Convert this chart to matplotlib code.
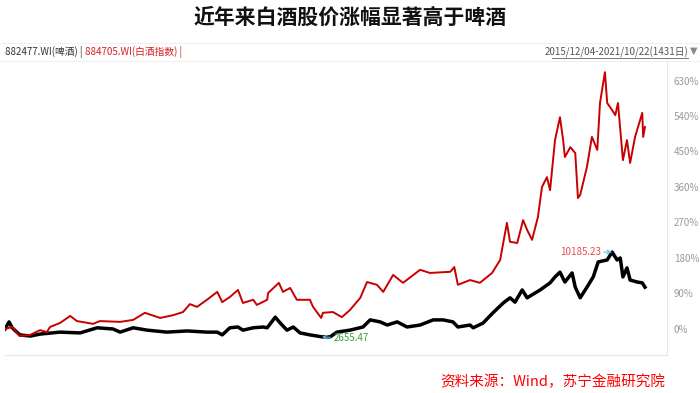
import matplotlib
matplotlib.use("Agg")
import matplotlib.pyplot as plt
from matplotlib.lines import Line2D

plt.rcParams['font.family'] = ['Noto Sans CJK SC', 'DejaVu Sans']

# trading-day index (0..1430) and cumulative change in %
baijiu_day = [0, 16, 33, 56, 78, 93, 100, 122, 145, 160, 196, 211, 256, 285, 311, 345, 374, 396,
              411, 427, 449, 472, 483, 500, 518, 529, 552, 560, 583, 585, 609, 618, 634, 649, 678,
              685, 703, 707, 729, 749, 767, 790, 805, 827, 841, 863, 885, 923, 945, 990, 999, 1007,
              1034, 1056, 1083, 1101, 1116, 1123, 1139, 1152, 1161, 1172, 1185, 1194, 1205, 1212,
              1223, 1234, 1241, 1245, 1257, 1268, 1274, 1279, 1294, 1305, 1317, 1323, 1334, 1339,
              1350, 1357, 1363, 1374, 1383, 1390, 1401, 1417, 1419, 1423]
baijiu_pct = [0, 5, -18, -15, -3, -8, 5, 15, 33, 20, 13, 20, 18, 23, 41, 28, 35, 43,
              63, 56, 74, 94, 68, 81, 99, 66, 74, 61, 74, 91, 117, 94, 104, 74, 74,
              56, 28, 41, 43, 30, 48, 79, 119, 112, 94, 137, 117, 150, 142, 145, 157, 112,
              124, 117, 142, 175, 269, 221, 218, 276, 251, 226, 284, 360, 385, 352,
              479, 537, 479, 436, 461, 446, 332, 340, 411, 487, 454, 573, 651, 573,
              555, 542, 573, 428, 479, 421, 487, 548, 487, 512]

beer_day = [0, 9, 16, 33, 56, 78, 122, 167, 205, 240, 256, 285, 316, 360, 405, 449, 472, 483,
            500, 518, 529, 552, 574, 583, 601, 612, 627, 641, 656, 678, 705, 723, 738, 767, 796,
            812, 834, 850, 872, 894, 923, 952, 974, 996, 1007, 1034, 1041, 1063, 1085, 1108,
            1123, 1134, 1150, 1161, 1190, 1212, 1223, 1234, 1245, 1261, 1268, 1279, 1294, 1308,
            1319, 1339, 1350, 1361, 1368, 1374, 1383, 1390, 1406, 1417, 1423]
beer_pct = [0, 18, 3, -15, -18, -13, -8, -10, 3, 0, -8, 3, -3, -8, -5, -8, -8, -15,
            3, 5, -3, 3, 5, 3, 30, 15, -3, 5, -10, -15, -20, -20, -8, -3, 5,
            23, 18, 10, 18, 5, 10, 23, 23, 18, 5, 10, 3, 15, 41, 66,
            79, 68, 99, 79, 99, 117, 132, 144, 119, 142, 106, 79, 106, 132,
            170, 175, 195, 175, 180, 132, 155, 124, 119, 117, 106]

yticks = [0, 90, 180, 270, 360, 450, 540, 630]
beer_min_label = "2655.47"
beer_max_label = "10185.23"

fig = plt.figure(figsize=(7, 3.93), dpi=100)

fig.text(0.5, 0.955, "近年来白酒股价涨幅显著高于啤酒", ha='center', va='center',
         fontsize=15, fontweight='bold', color='#111111')

# header strip
fig.add_artist(Line2D([0, 1], [1 - 43/393, 1 - 43/393], color='#f0f0f0', lw=0.8))
fig.add_artist(Line2D([0, 1], [1 - 61/393, 1 - 61/393], color='#f0f0f0', lw=0.8))
t1 = fig.text(5/700, 1 - 52/393, "882477.WI(啤酒) | ", ha='left', va='center',
              fontsize=7, color='#333333')
fig.canvas.draw()
bb = t1.get_window_extent()
fig.text(bb.x1 / fig.bbox.width, 1 - 52/393, "884705.WI(白酒指数) |", ha='left', va='center',
         fontsize=7, color='#d42020')
fig.text(688/700, 1 - 52/393, "2015/12/04-2021/10/22(1431日)", ha='right', va='center',
         fontsize=7, color='#555555')
fig.add_artist(Line2D([552/700, 688/700], [1 - 58/393, 1 - 58/393], color='#777777', lw=0.7))
fig.text(694/700, 1 - 51/393, "▼", ha='center', va='center', fontsize=7, color='#888888',
         family='DejaVu Sans')

ax = fig.add_axes([5/700, 38/393, 662/700, 295/393])
ax.plot(beer_day, beer_pct, color='#000000', lw=2.5, solid_joinstyle='round')
ax.plot(baijiu_day, baijiu_pct, color='#c80000', lw=1.4, solid_joinstyle='round')

ax.set_xlim(0, 1472)
ax.set_ylim(-66, 682)
ax.set_xticks([])
ax.yaxis.tick_right()
ax.set_yticks(yticks)
ax.set_yticklabels([f"{v}%" for v in yticks], fontsize=7, color='#999999')
ax.tick_params(axis='y', length=0, pad=5)
for s in ['top', 'left']:
    ax.spines[s].set_visible(False)
for s in ['right', 'bottom']:
    ax.spines[s].set_color('#e8e8e8')
    ax.spines[s].set_linewidth(0.8)

# min / max markers of beer index
i_min = beer_pct.index(min(beer_pct))
i_max = beer_pct.index(max(beer_pct))
ax.annotate(beer_min_label, xy=(beer_day[i_min], beer_pct[i_min]), xytext=(8, -1),
            textcoords='offset points', ha='left', va='center', fontsize=7, color='#3aa03a',
            arrowprops=dict(arrowstyle='->', color='#5bc0de', lw=0.8, shrinkA=0, shrinkB=0))
ax.annotate(beer_max_label, xy=(beer_day[i_max], beer_pct[i_max]), xytext=(-8, 0),
            textcoords='offset points', ha='right', va='center', fontsize=7, color='#e05050',
            arrowprops=dict(arrowstyle='->', color='#5bc0de', lw=0.8, shrinkA=0, shrinkB=0))

fig.text(665/700, 1 - 382/393, "资料来源：Wind，苏宁金融研究院", ha='right', va='center',
         fontsize=10.5, color='#ff0000', style='italic')

fig.savefig("out.png", dpi=100)
